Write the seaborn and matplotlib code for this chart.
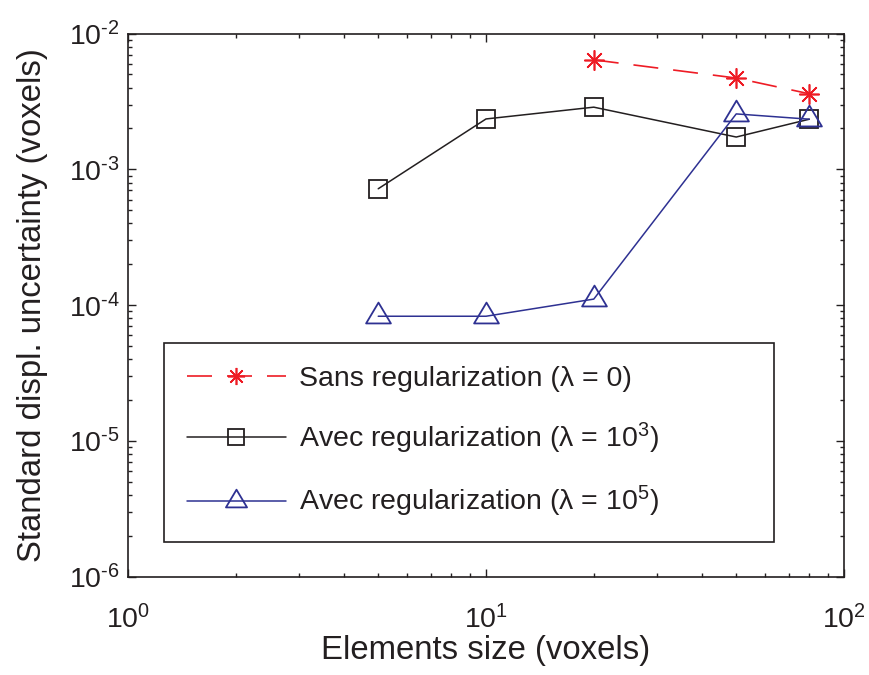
import numpy as np
import matplotlib
matplotlib.use("Agg")
import matplotlib.pyplot as plt
import seaborn as sns
from matplotlib.path import Path
from matplotlib.ticker import LogLocator, FixedLocator, FuncFormatter, NullFormatter

# ---------------- data ----------------
size_sans = [20, 50, 80]
uncert_sans = [6.4e-3, 4.7e-3, 3.6e-3]

size_avec = [5, 10, 20, 50, 80]
uncert_avec_1e3 = [7.2e-4, 2.35e-3, 2.87e-3, 1.73e-3, 2.34e-3]
uncert_avec_1e5 = [8.3e-5, 8.3e-5, 1.11e-4, 2.56e-3, 2.34e-3]

series_labels = [
    "Sans regularization (λ = 0)",
    "Avec regularization (λ = 10$^{3}$)",
    "Avec regularization (λ = 10$^{5}$)",
]
x_ticks = [1, 10, 100]
y_ticks = [1e-6, 1e-5, 1e-4, 1e-3, 1e-2]
x_label = "Elements size (voxels)"
y_label = "Standard displ. uncertainty (voxels)"

# ---------------- style ----------------
sns.set_style("ticks")
plt.rcParams["font.family"] = ["Liberation Sans", "DejaVu Sans"]
plt.rcParams["mathtext.fontset"] = "custom"
plt.rcParams["mathtext.rm"] = "Liberation Sans"
plt.rcParams["mathtext.it"] = "Liberation Sans:italic"
plt.rcParams["mathtext.bf"] = "Liberation Sans:bold"
text_color = "#231f20"
plt.rcParams["text.color"] = text_color
plt.rcParams["axes.labelcolor"] = text_color
plt.rcParams["xtick.color"] = text_color
plt.rcParams["ytick.color"] = text_color

fig = plt.figure(figsize=(8.69, 6.75), dpi=100)
ax = fig.add_axes([128 / 869, 1 - 577 / 675, (844 - 128) / 869, (577 - 33.5) / 675])

red = "#ee1c25"
black = "#231f20"
blue = "#2e3192"

tri = Path([(0, 1.12), (-1, -0.56), (1, -0.56), (0, 1.12)], closed=True)

sns.lineplot(x=size_sans, y=uncert_sans, ax=ax, sort=False, estimator=None,
             color=red, linewidth=1.2, linestyle=(0, (15, 9)),
             marker=(8, 2, 0), markersize=14.5, markeredgecolor=red,
             markerfacecolor="none", markeredgewidth=1.2, label=series_labels[0])
sns.lineplot(x=size_avec, y=uncert_avec_1e3, ax=ax, sort=False, estimator=None,
             color=black, linewidth=1.1, marker="s", markersize=13,
             markeredgecolor=black, markerfacecolor="none", markeredgewidth=1.3,
             label=series_labels[1])
sns.lineplot(x=size_avec, y=uncert_avec_1e5, ax=ax, sort=False, estimator=None,
             color=blue, linewidth=1.1, marker=tri, markersize=20,
             markeredgecolor=blue, markerfacecolor="none", markeredgewidth=1.3,
             label=series_labels[2])

ax.set_xscale("log")
ax.set_yscale("log")
ax.set_xlim(x_ticks[0], x_ticks[-1])
ax.set_ylim(y_ticks[0], y_ticks[-1])

def fmt(v, pos):
    e = int(round(np.log10(v)))
    if e < 0:
        return r"$\mathregular{10^{\text{-}%d}}$" % (-e)
    return r"$\mathregular{10^{%d}}$" % e

ax.xaxis.set_major_locator(FixedLocator(x_ticks))
ax.yaxis.set_major_locator(FixedLocator(y_ticks))
ax.xaxis.set_major_formatter(FuncFormatter(fmt))
ax.yaxis.set_major_formatter(FuncFormatter(fmt))
ax.xaxis.set_minor_locator(LogLocator(base=10, subs=np.arange(2, 10), numticks=20))
ax.yaxis.set_minor_locator(LogLocator(base=10, subs=np.arange(2, 10), numticks=20))
ax.xaxis.set_minor_formatter(NullFormatter())
ax.yaxis.set_minor_formatter(NullFormatter())

ax.tick_params(which="both", direction="in", top=True, right=True, width=1.0)
ax.tick_params(which="major", length=5.5, labelsize=20.5)
ax.tick_params(which="minor", length=3)
ax.tick_params(axis="x", which="major", pad=20)
ax.tick_params(axis="y", which="major", pad=6)
for s in ax.spines.values():
    s.set_linewidth(1.2)
    s.set_color(black)
    s.set_visible(True)

ax.set_xlabel(x_label, fontsize=23.7, labelpad=1)
ax.set_ylabel(y_label, fontsize=23.7, labelpad=15)

leg = ax.legend(loc="lower left", bbox_to_anchor=(0.050, 0.064, 0.852, 0.365),
                mode="expand", borderaxespad=0, fontsize=20.5, frameon=True,
                fancybox=False, shadow=False, handlelength=3.5, handletextpad=0.45,
                labelspacing=1.0, borderpad=0.8, markerscale=0.85, numpoints=1)
leg.get_frame().set_edgecolor(black)
leg.get_frame().set_linewidth(1.2)
leg.get_frame().set_alpha(1)

fig.savefig("out.png", dpi=100)
